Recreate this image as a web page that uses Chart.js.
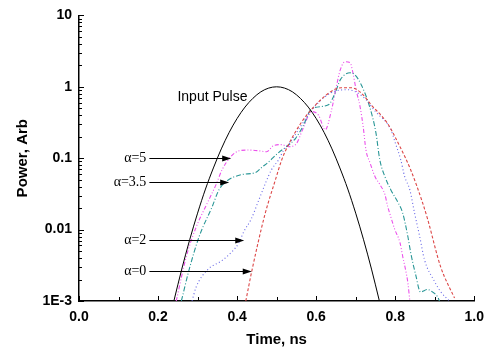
<!DOCTYPE html>
<html>
<head>
<meta charset="utf-8">
<script src="https://cdn.jsdelivr.net/npm/chart.js@4"></script>
<style>
  body { margin: 0; background: #fff; }
  #wrap { width: 492px; height: 350px; }
</style>
</head>
<body>
<div id="wrap"><canvas id="chart" width="492" height="350"></canvas></div>
<script>
// Input pulse (black solid)
const inputTime = [0.23, 0.24, 0.26, 0.28, 0.30, 0.32, 0.34, 0.36, 0.38, 0.40, 0.42, 0.44, 0.46, 0.48, 0.50,
                   0.52, 0.54, 0.56, 0.58, 0.60, 0.62, 0.64, 0.66, 0.68, 0.70, 0.72, 0.74, 0.76, 0.77];
const inputPower = [0.0006, 0.001, 0.0028, 0.0072, 0.017, 0.037, 0.073, 0.135, 0.23, 0.36, 0.52, 0.69, 0.85, 0.96, 1.0,
                    0.96, 0.85, 0.69, 0.52, 0.36, 0.23, 0.135, 0.073, 0.037, 0.017, 0.0072, 0.0028, 0.001, 0.0006];

// alpha = 0 (red dashed)
const a0Time = [0.422, 0.437, 0.470, 0.497, 0.513, 0.530, 0.563, 0.588, 0.636, 0.663, 0.688, 0.714, 0.739, 0.780,
                0.812, 0.839, 0.869, 0.882, 0.915, 0.950];
const a0Power = [0.001, 0.0026, 0.016, 0.050, 0.095, 0.155, 0.32, 0.48, 0.85, 0.97, 0.97, 0.82, 0.56, 0.31,
                 0.145, 0.069, 0.024, 0.014, 0.003, 0.0011];

// alpha = 2 (blue dotted)
const a2Time = [0.286, 0.296, 0.327, 0.359, 0.387, 0.405, 0.417, 0.435, 0.455, 0.472, 0.487, 0.505, 0.518, 0.535,
                0.568, 0.600, 0.643, 0.680, 0.719, 0.750, 0.789, 0.800, 0.814, 0.824, 0.837, 0.849, 0.862, 0.874,
                0.899, 0.915, 0.937];
const a2Power = [0.001, 0.00155, 0.0028, 0.0036, 0.0049, 0.0066, 0.0094, 0.0138, 0.026, 0.045, 0.069, 0.095, 0.13, 0.17,
                 0.32, 0.56, 0.85, 0.91, 0.72, 0.45, 0.25, 0.165, 0.095, 0.055, 0.036, 0.017, 0.008, 0.0038,
                 0.0019, 0.00135, 0.001];

// alpha = 3.5 (teal dash-dot)
const a35Time = [0.259, 0.279, 0.304, 0.337, 0.354, 0.372, 0.412, 0.447, 0.462, 0.480, 0.505, 0.525, 0.548, 0.568,
                 0.588, 0.631, 0.648, 0.661, 0.686, 0.698, 0.714, 0.736, 0.751, 0.761, 0.774, 0.789, 0.807, 0.819,
                 0.832, 0.839, 0.852, 0.864, 0.882, 0.894, 0.907, 0.912];
const a35Power = [0.001, 0.0028, 0.008, 0.021, 0.036, 0.047, 0.059, 0.063, 0.074, 0.089, 0.12, 0.145, 0.19, 0.29,
                  0.49, 0.56, 0.82, 1.25, 1.57, 1.47, 1.07, 0.51, 0.23, 0.095, 0.055, 0.036, 0.024, 0.017,
                  0.008, 0.0048, 0.0023, 0.00134, 0.00145, 0.00134, 0.00115, 0.001];

// alpha = 5 (magenta dash-dot-dot)
const a5Time = [0.246, 0.271, 0.296, 0.322, 0.347, 0.362, 0.384, 0.405, 0.430, 0.455, 0.475, 0.492, 0.513, 0.530,
                0.548, 0.568, 0.588, 0.606, 0.623, 0.638, 0.651, 0.661, 0.673, 0.686, 0.693, 0.701, 0.711, 0.719,
                0.726, 0.736, 0.749, 0.761, 0.774, 0.781, 0.786, 0.799, 0.812, 0.819, 0.827, 0.832, 0.837];
const a5Power = [0.001, 0.0041, 0.0107, 0.022, 0.043, 0.069, 0.105, 0.127, 0.13, 0.127, 0.123, 0.15, 0.155, 0.145,
                 0.155, 0.27, 0.45, 0.40, 0.25, 0.45, 1.0, 1.73, 2.24, 2.17, 1.57, 0.91, 0.53, 0.275,
                 0.13, 0.087, 0.055, 0.043, 0.031, 0.021, 0.017, 0.010, 0.0066, 0.0042, 0.0026, 0.0018, 0.001];

// Axis tick labels
const xTicks = [0.0, 0.2, 0.4, 0.6, 0.8, 1.0];
const yTicks = [0.001, 0.01, 0.1, 1, 10];
const yTickLabels = ['1E-3', '0.01', '0.1', '1', '10'];

// Annotations
const alphaLabels = ['α=5', 'α=3.5', 'α=2', 'α=0'];
const arrowTipTime = [0.385, 0.380, 0.418, 0.437];
const arrowTipPower = [0.102, 0.047, 0.0072, 0.0026];
const arrowStartTime = 0.178;
const pulseLabel = 'Input Pulse';
const pulseLabelTime = 0.249;
const pulseLabelPower = 0.72;

function toPoints(xs, ys) {
    return xs.map((x, i) => ({ x: x, y: ys[i] }));
}

function lineSet(label, xs, ys, color, dash, width) {
    return {
        label: label,
        data: toPoints(xs, ys),
        borderColor: color,
        borderWidth: width,
        borderDash: dash,
        pointRadius: 0,
        fill: false,
        cubicInterpolationMode: 'monotone'
    };
}

// Inward ticks, minor ticks and annotation text/arrows
const decorPlugin = {
    id: 'decor',
    afterDraw(chart) {
        const ctx = chart.ctx;
        const xs = chart.scales.x;
        const ys = chart.scales.y;
        const area = chart.chartArea;
        ctx.save();
        ctx.strokeStyle = '#000';
        ctx.lineWidth = 1;

        // x ticks (pointing up)
        for (let i = 0; i <= 10; i++) {
            const px = Math.round(xs.getPixelForValue(i / 10)) + 0.5;
            const len = i % 2 === 0 ? 5 : 4;
            ctx.beginPath();
            ctx.moveTo(px, area.bottom);
            ctx.lineTo(px, area.bottom - len);
            ctx.stroke();
        }

        // y ticks (pointing right), with minor ticks
        for (let d = -3; d <= 1; d++) {
            for (let m = 1; m <= 9; m++) {
                const v = m * Math.pow(10, d);
                if (v > 10) break;
                const py = Math.round(ys.getPixelForValue(v)) + 0.5;
                const len = m === 1 ? 5 : 3;
                ctx.beginPath();
                ctx.moveTo(area.left, py);
                ctx.lineTo(area.left + len, py);
                ctx.stroke();
            }
        }

        // Input pulse label
        ctx.fillStyle = '#000';
        ctx.font = '14px "Liberation Sans", Arial, sans-serif';
        ctx.textAlign = 'left';
        ctx.textBaseline = 'middle';
        ctx.fillText(pulseLabel, xs.getPixelForValue(pulseLabelTime), ys.getPixelForValue(pulseLabelPower));

        // alpha labels with arrows
        const x0 = xs.getPixelForValue(arrowStartTime);
        alphaLabels.forEach((txt, i) => {
            const py = Math.round(ys.getPixelForValue(arrowTipPower[i])) + 0.5;
            const tip = xs.getPixelForValue(arrowTipTime[i]);
            ctx.font = '14px "Liberation Serif", "Times New Roman", serif';
            ctx.textAlign = 'right';
            ctx.fillText(txt, x0 - 3, py);
            ctx.lineWidth = 1.2;
            ctx.beginPath();
            ctx.moveTo(x0, py);
            ctx.lineTo(tip - 6, py);
            ctx.stroke();
            ctx.beginPath();
            ctx.moveTo(tip, py);
            ctx.lineTo(tip - 9, py - 3);
            ctx.lineTo(tip - 9, py + 3);
            ctx.closePath();
            ctx.fill();
        });
        ctx.restore();
    }
};

const tickFont = { family: '"Liberation Sans", Arial, sans-serif', size: 14, weight: 'bold' };
const titleFont = { family: '"Liberation Sans", Arial, sans-serif', size: 15, weight: 'bold' };

new Chart(document.getElementById('chart').getContext('2d'), {
    type: 'line',
    data: {
        datasets: [
            lineSet('Input Pulse', inputTime, inputPower, '#000000', [], 1),
            lineSet('α=0', a0Time, a0Power, 'rgb(220,70,70)', [3, 2], 1.1),
            lineSet('α=2', a2Time, a2Power, 'rgb(100,100,230)', [1, 2.5], 1.1),
            lineSet('α=3.5', a35Time, a35Power, 'rgb(40,150,150)', [5, 2, 1, 2], 1.1),
            lineSet('α=5', a5Time, a5Power, 'rgb(235,80,235)', [4, 2, 1, 2, 1, 2], 1.1)
        ]
    },
    options: {
        responsive: false,
        animation: false,
        layout: { padding: { top: 15, right: 15, left: 0, bottom: 0 } },
        plugins: {
            legend: { display: false },
            tooltip: { enabled: false }
        },
        scales: {
            x: {
                type: 'linear',
                min: 0,
                max: 1,
                afterBuildTicks: scale => { scale.ticks = xTicks.map(v => ({ value: v })); },
                afterFit: scale => { scale.height = 49; },
                grid: { display: false, drawTicks: false },
                border: { display: true, color: '#000', width: 1.5 },
                ticks: {
                    color: '#000',
                    font: tickFont,
                    padding: 8,
                    maxRotation: 0,
                    callback: v => v.toFixed(1)
                },
                title: {
                    display: true,
                    text: 'Time, ns',
                    color: '#000',
                    font: titleFont,
                    padding: { top: 0, bottom: 1 }
                }
            },
            y: {
                type: 'logarithmic',
                min: 0.001,
                max: 10,
                afterBuildTicks: scale => { scale.ticks = yTicks.map(v => ({ value: v })); },
                afterFit: scale => { scale.width = 79; },
                grid: { display: false, drawTicks: false },
                border: { display: true, color: '#000', width: 1.5 },
                ticks: {
                    color: '#000',
                    font: tickFont,
                    padding: 7,
                    callback: v => yTickLabels[yTicks.indexOf(v)]
                },
                title: {
                    display: true,
                    text: 'Power, Arb',
                    color: '#000',
                    font: titleFont,
                    padding: { top: 14, bottom: 0 }
                }
            }
        }
    },
    plugins: [decorPlugin]
});
</script>
</body>
</html>
